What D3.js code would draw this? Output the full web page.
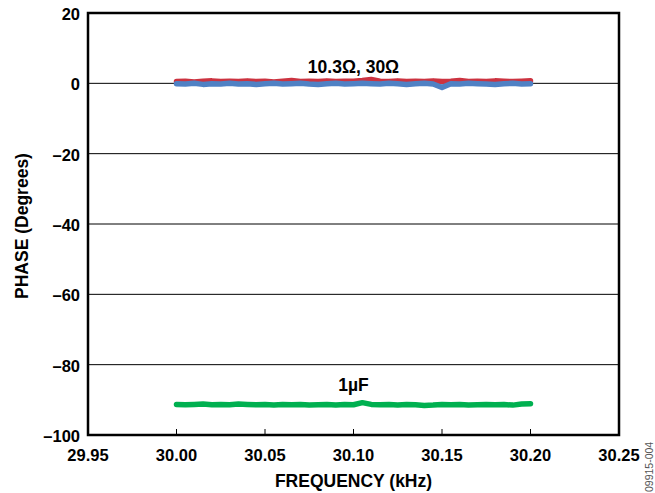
<!DOCTYPE html>
<html>
<head>
<meta charset="utf-8">
<script src="https://cdn.jsdelivr.net/npm/d3@7"></script>
<style>
  body { margin: 0; background: #fff; }
  svg { display: block; font-family: "Liberation Sans", Arial, sans-serif; }
</style>
</head>
<body>
<svg id="chart" width="655" height="493"></svg>
<script>
// sweep points (kHz)
var freq = [30.000, 30.005, 30.010, 30.015, 30.020, 30.025, 30.030, 30.035, 30.040, 30.045,
            30.050, 30.055, 30.060, 30.065, 30.070, 30.075, 30.080, 30.085, 30.090, 30.095,
            30.100, 30.105, 30.110, 30.115, 30.120, 30.125, 30.130, 30.135, 30.140, 30.145,
            30.150, 30.155, 30.160, 30.165, 30.170, 30.175, 30.180, 30.185, 30.190, 30.195, 30.200];

// phase readings (degrees)
var phaseR10 = [0.5, 0.6, 0.4, 0.6, 0.7, 0.5, 0.6, 0.5, 0.7, 0.5,
                0.6, 0.4, 0.6, 0.8, 0.5, 0.6, 0.5, 0.7, 0.5, 0.6,
                0.6, 0.8, 1.1, 0.6, 0.5, 0.7, 0.5, 0.6, 0.5, 0.7,
                0.5, 0.6, 0.8, 0.5, 0.6, 0.5, 0.7, 0.6, 0.5, 0.6, 0.7];
var phaseR30 = [-0.1, -0.2, 0.0, -0.3, -0.1, -0.2, 0.0, -0.2, -0.1, -0.3,
                -0.1, 0.0, -0.2, -0.1, 0.0, -0.2, -0.3, -0.1, 0.0, -0.2,
                -0.1, 0.0, -0.1, -0.2, 0.0, -0.1, -0.3, -0.1, 0.0, -0.2,
                -1.2, -0.1, -0.2, 0.0, -0.1, -0.2, -0.3, -0.1, 0.0, -0.2, -0.1];
var phaseC1u = [-91.3, -91.4, -91.3, -91.2, -91.4, -91.3, -91.4, -91.2, -91.3, -91.4,
                -91.3, -91.5, -91.3, -91.4, -91.3, -91.5, -91.4, -91.3, -91.5, -91.3,
                -91.4, -90.8, -91.3, -91.4, -91.3, -91.5, -91.3, -91.4, -91.6, -91.5,
                -91.3, -91.4, -91.3, -91.5, -91.4, -91.3, -91.4, -91.3, -91.5, -91.2, -91.1];

var xTicks = [29.95, 30.00, 30.05, 30.10, 30.15, 30.20, 30.25];
var yTicks = [20, 0, -20, -40, -60, -80, -100];

var svg = d3.select("#chart");
var m = { left: 88, right: 619, top: 13, bottom: 435 };

var x = d3.scaleLinear().domain([29.95, 30.25]).range([m.left, m.right]);
var y = d3.scaleLinear().domain([-100, 20]).range([m.bottom, m.top]);

// gridlines
svg.append("g").selectAll("line")
  .data(yTicks.filter(function(d) { return d > -100 && d < 20; }))
  .enter().append("line")
  .attr("x1", m.left).attr("x2", m.right)
  .attr("y1", function(d) { return y(d); }).attr("y2", function(d) { return y(d); })
  .attr("stroke", "#000").attr("stroke-width", 1);

// bottom ticks (pointing inward)
svg.append("g").selectAll("line")
  .data(xTicks.slice(1, -1))
  .enter().append("line")
  .attr("x1", function(d) { return x(d); }).attr("x2", function(d) { return x(d); })
  .attr("y1", m.bottom).attr("y2", m.bottom - 6)
  .attr("stroke", "#000").attr("stroke-width", 1);

function series(vals, color) {
  var line = d3.line()
    .x(function(d, i) { return x(freq[i]); })
    .y(function(d) { return y(d); })
    .curve(d3.curveLinear);
  svg.append("path")
    .datum(vals)
    .attr("d", line)
    .attr("fill", "none")
    .attr("stroke", color)
    .attr("stroke-width", 5.5)
    .attr("stroke-linecap", "round")
    .attr("stroke-linejoin", "round");
}
series(phaseR10, "#cc3340");
series(phaseR30, "#4f81c4");
series(phaseC1u, "#00b050");

// frame
svg.append("rect")
  .attr("x", m.left).attr("y", m.top)
  .attr("width", m.right - m.left).attr("height", m.bottom - m.top)
  .attr("fill", "none").attr("stroke", "#000").attr("stroke-width", 2.5);

// tick labels
svg.append("g").selectAll("text")
  .data(yTicks)
  .enter().append("text")
  .attr("x", m.left - 8).attr("y", function(d) { return y(d) + 7; })
  .attr("text-anchor", "end")
  .attr("font-size", 16.5).attr("font-weight", "bold")
  .text(function(d) { return d < 0 ? "\u2013" + Math.abs(d) : d; });

svg.append("g").selectAll("text")
  .data(xTicks)
  .enter().append("text")
  .attr("x", function(d) { return x(d); }).attr("y", m.bottom + 26)
  .attr("text-anchor", "middle")
  .attr("font-size", 16.5).attr("font-weight", "bold")
  .text(function(d) { return d.toFixed(2); });

// axis titles
svg.append("text")
  .attr("x", (m.left + m.right) / 2).attr("y", 487)
  .attr("text-anchor", "middle")
  .attr("font-size", 17.5).attr("font-weight", "bold")
  .text("FREQUENCY (kHz)");

svg.append("text")
  .attr("transform", "translate(28,226) rotate(-90)")
  .attr("text-anchor", "middle")
  .attr("font-size", 17.5).attr("font-weight", "bold")
  .text("PHASE (Degrees)");

// curve labels
svg.append("text")
  .attr("x", x(30.10)).attr("y", 73)
  .attr("text-anchor", "middle")
  .attr("font-size", 17.5).attr("font-weight", "bold")
  .text("10.3\u03A9, 30\u03A9");

svg.append("text")
  .attr("transform", "translate(653,492) rotate(-90)")
  .attr("text-anchor", "start")
  .attr("font-size", 10.5).attr("fill", "#555")
  .text("09915-004");

svg.append("text")
  .attr("x", x(30.10)).attr("y", 391)
  .attr("text-anchor", "middle")
  .attr("font-size", 17.5).attr("font-weight", "bold")
  .text("1\u00B5F");
</script>
</body>
</html>
